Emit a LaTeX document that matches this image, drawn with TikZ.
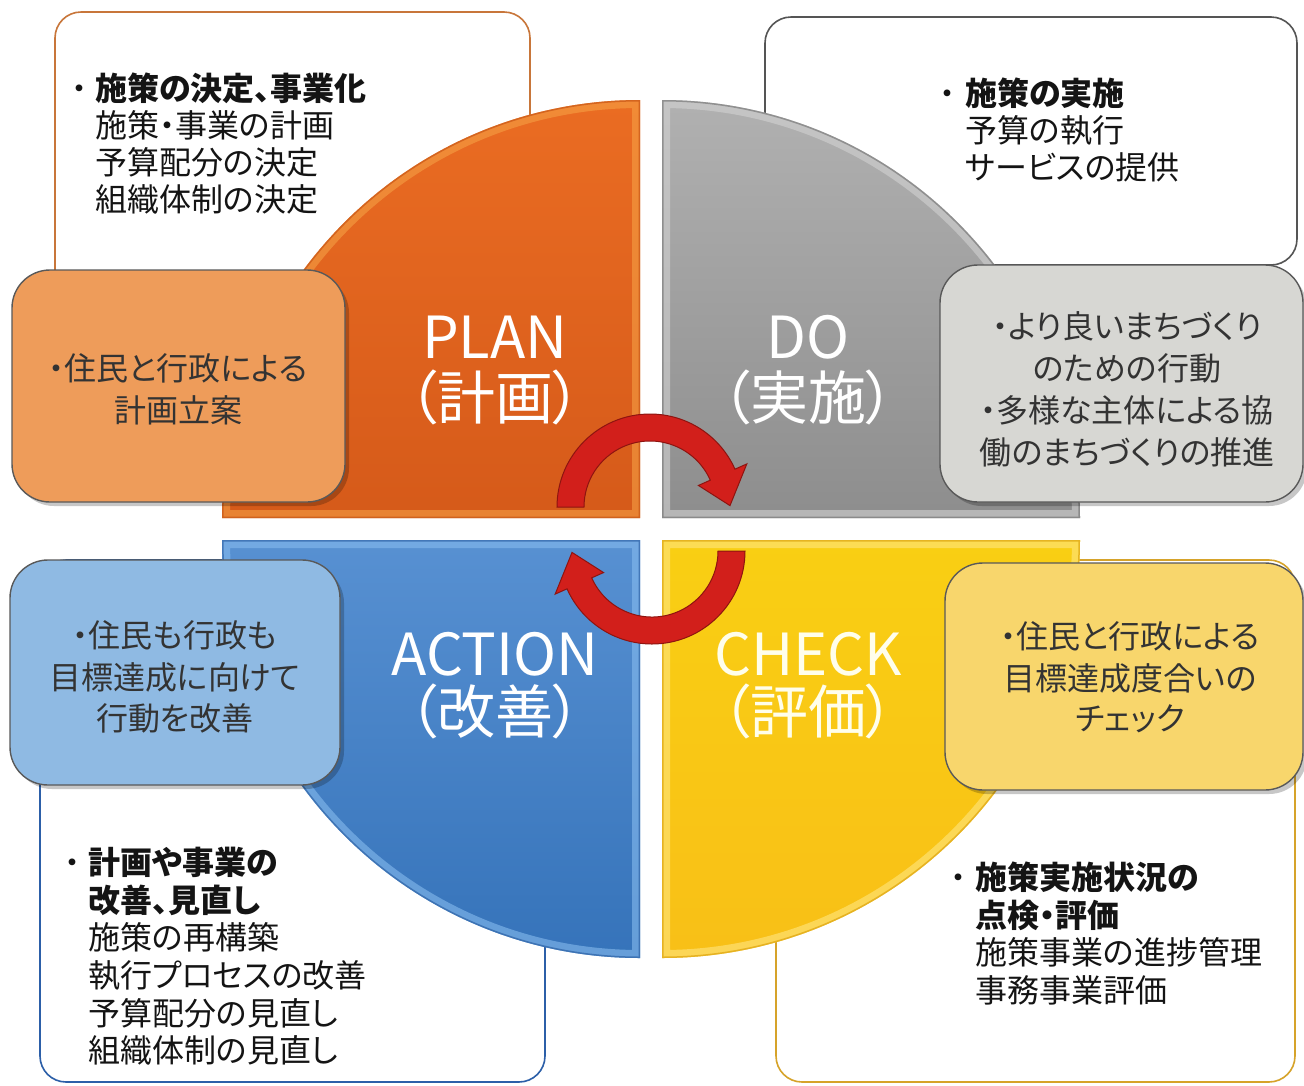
\documentclass[tikz,border=0pt]{standalone}
\usepackage{fontspec}
\newfontfamily\jp[RawFeature=+palt]{Noto Sans CJK JP}
\usetikzlibrary{calc}
\definecolor{plancol}{HTML}{E8621C}
\definecolor{planhl}{HTML}{F7A548}
\definecolor{planedge}{HTML}{C24C10}
\definecolor{docol}{HTML}{9D9D9D}
\definecolor{dohl}{HTML}{D2D2D2}
\definecolor{doedge}{HTML}{6E6E6E}
\definecolor{actcol}{HTML}{3A7DCA}
\definecolor{acthl}{HTML}{86BBEE}
\definecolor{actedge}{HTML}{23579C}
\definecolor{chkcol}{HTML}{F8C318}
\definecolor{chkhl}{HTML}{FFE680}
\definecolor{chkedge}{HTML}{D89A00}
\definecolor{obox}{HTML}{EE9C5A}
\definecolor{gbox}{HTML}{D7D7D3}
\definecolor{ybox}{HTML}{F8D66C}
\definecolor{bbox}{HTML}{8FBAE3}
\definecolor{wplan}{HTML}{C8763A}
\definecolor{wdo}{HTML}{555555}
\definecolor{wact}{HTML}{2C5FA8}
\definecolor{wchk}{HTML}{D6A32A}
\definecolor{arrred}{HTML}{D21F1B}
\definecolor{arrdark}{HTML}{8E1410}
\newcommand\quadpath[3]{(#1,#2) -- ++(#3:418) arc[start angle=#3, end angle=#3+90, radius=418] -- cycle}
\tikzset{
  wbox/.style={fill=white, line width=1.6pt, rounded corners=26pt},
  cbox/.style={line width=1.4pt, draw=black!65, rounded corners=38pt},
  cshadow/.style={fill=black, opacity=0.22, rounded corners=38pt},
  wt/.style={font=\jp\fontsize{32}{37}\selectfont, anchor=base west, inner sep=0pt, text=black!92},
  wb/.style={wt, font=\jp\bfseries\fontsize{32}{37}\selectfont},
  ct/.style={font=\jp\fontsize{32}{42}\selectfont, anchor=base, inner sep=0pt, text=black!80},
  big/.style={font=\jp\fontsize{58}{61}\selectfont, anchor=base, inner sep=0pt, text=white},
  redarr/.style={fill=arrred, draw=arrdark, line width=1pt},
}
\begin{document}
\begin{tikzpicture}[x=1pt,y=-1pt]
\useasboundingbox (0,0) rectangle (1304,1085);
\fill[white] (0,0) rectangle (1304,1085);

% white boxes (behind)
\draw[wbox, draw=wplan] (55,12) rectangle (530,480);
\draw[wbox, draw=wdo] (765,17) rectangle (1297,265);
\draw[wbox, draw=wact] (40,560) rectangle (545,1082);
\draw[wbox, draw=wchk] (776,560) rectangle (1295,1082);

% quadrants
\shade[top color=plancol!85!planhl, bottom color=plancol!92!black] \quadpath{640}{518}{180};
\begin{scope}\clip \quadpath{640}{518}{180};
  \draw[line width=16pt, planhl, opacity=0.55] \quadpath{640}{518}{180};
  \draw[line width=3pt, planedge, opacity=0.6] \quadpath{640}{518}{180};
\end{scope}

\shade[top color=docol!80!white, bottom color=docol!90!black] \quadpath{662}{518}{270};
\begin{scope}\clip \quadpath{662}{518}{270};
  \draw[line width=16pt, dohl, opacity=0.6] \quadpath{662}{518}{270};
  \draw[line width=3pt, doedge, opacity=0.6] \quadpath{662}{518}{270};
\end{scope}

\shade[top color=actcol!85!white, bottom color=actcol!92!black] \quadpath{640}{540}{90};
\begin{scope}\clip \quadpath{640}{540}{90};
  \draw[line width=16pt, acthl, opacity=0.6] \quadpath{640}{540}{90};
  \draw[line width=3pt, actedge, opacity=0.6] \quadpath{640}{540}{90};
\end{scope}

\shade[top color=chkcol!80!yellow, bottom color=chkcol!95!orange] \quadpath{662}{540}{0};
\begin{scope}\clip \quadpath{662}{540}{0};
  \draw[line width=16pt, chkhl, opacity=0.6] \quadpath{662}{540}{0};
  \draw[line width=3pt, chkedge, opacity=0.6] \quadpath{662}{540}{0};
\end{scope}

% coloured boxes
\fill[cshadow] (16,275) rectangle (349,506);
\draw[cbox, fill=obox] (12,270) rectangle (345,502);
\fill[cshadow] (944,270) rectangle (1307,506);
\draw[cbox, fill=gbox] (940,265) rectangle (1303,502);
\fill[cshadow] (949,568) rectangle (1307,794);
\draw[cbox, fill=ybox] (945,563) rectangle (1303,790);
\fill[cshadow] (14,565) rectangle (344,789);
\draw[cbox, fill=bbox] (10,560) rectangle (340,785);

% cycle arrows
\coordinate (U) at (650,507);
\coordinate (L) at (652,551);
\draw[redarr] ($(U)+(180:93)$) arc[start angle=180, end angle=336, radius=93]
  -- ($(U)+(336:106)$) -- ($(U)+(359:80)$) -- ($(U)+(336:53)$) -- ($(U)+(336:66)$)
  arc[start angle=336, end angle=180, radius=66] -- cycle;
\draw[redarr] ($(L)+(0:93)$) arc[start angle=0, end angle=156, radius=93]
  -- ($(L)+(156:106)$) -- ($(L)+(179:80)$) -- ($(L)+(156:53)$) -- ($(L)+(156:66)$)
  arc[start angle=156, end angle=0, radius=66] -- cycle;

% big labels
\node[big] (planA) at (495,358) {PLAN};
\node[big] (planB) at (495,419) {（計画）};
\node[big] (doA) at (808,358) {DO};
\node[big] (doB) at (808,419) {（実施）};
\node[big] (actA) at (495,675) {ACTION};
\node[big] (actB) at (495,733) {（改善）};
\node[big, text=white!92!yellow] (chkA) at (808,675) {CHECK};
\node[big, text=white!92!yellow] (chkB) at (808,733) {（評価）};

% PLAN white box text
\node[wt, anchor=base] (pb) at (79,100) {・};
\node[wb] (p1) at (95,100) {施策の決定、事業化};
\node[wt] (p2) at (95,137) {施策・事業の計画};
\node[wt] (p3) at (95,174) {予算配分の決定};
\node[wt] (p4) at (95,211) {組織体制の決定};

% DO white box text
\node[wt, anchor=base] (db) at (947,105) {・};
\node[wb] (d1) at (965,105) {施策の実施};
\node[wt] (d2) at (965,142) {予算の執行};
\node[wt] (d3) at (965,179) {サービスの提供};

% CHECK white box text
\node[wt, anchor=base] (cb) at (958,889) {・};
\node[wb] (c1) at (975,889) {施策実施状況の};
\node[wb] (c2) at (975,927) {点検・評価};
\node[wt] (c3) at (975,964) {施策事業の進捗管理};
\node[wt] (c4) at (975,1002) {事務事業評価};

% ACTION white box text
\node[wt, anchor=base] (ab) at (72,874) {・};
\node[wb] (a1) at (88,874) {計画や事業の};
\node[wb] (a2) at (88,912) {改善、見直し};
\node[wt] (a3) at (88,949) {施策の再構築};
\node[wt] (a4) at (88,987) {執行プロセスの改善};
\node[wt] (a5) at (88,1025) {予算配分の見直し};
\node[wt] (a6) at (88,1062) {組織体制の見直し};

% coloured box text
\node[ct] (o1) at (178,380) {・住民と行政による};
\node[ct] (o2) at (178,422) {計画立案};

\node[ct] (g1) at (1127,338) {・より良いまちづくり};
\node[ct] (g2) at (1127,380) {のための行動};
\node[ct] (g3) at (1127,422) {・多様な主体による協};
\node[ct] (g4) at (1127,464) {働のまちづくりの推進};

\node[ct] (y1) at (1130,648) {・住民と行政による};
\node[ct] (y2) at (1130,690) {目標達成度合いの};
\node[ct] (y3) at (1130,730) {チェック};

\node[ct] (b1) at (175,647) {・住民も行政も};
\node[ct] (b2) at (175,689) {目標達成に向けて};
\node[ct] (b3) at (175,730) {行動を改善};
\end{tikzpicture}
\end{document}
